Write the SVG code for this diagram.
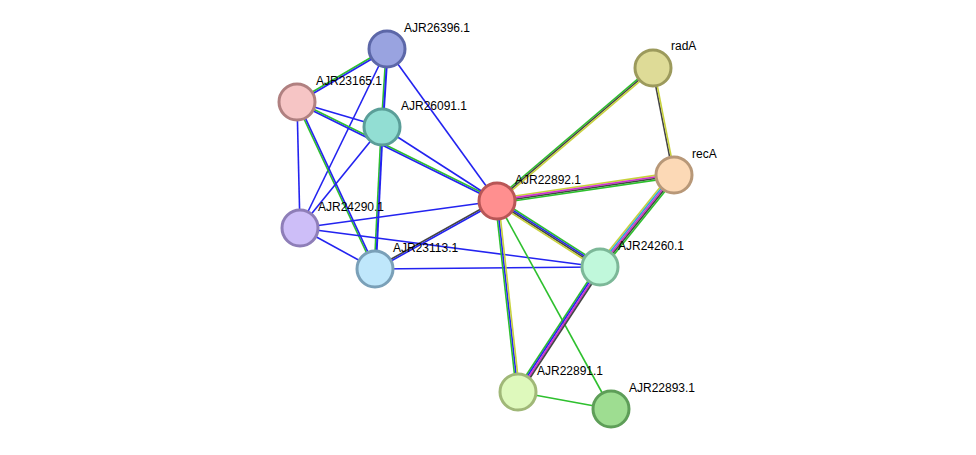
<svg xmlns="http://www.w3.org/2000/svg" width="976" height="455" viewBox="0 0 976 455">
<style>
line{stroke-width:1.6;fill:none}
.b{stroke:#2323f0}.g{stroke:#2ec02e}.k{stroke:#444}.y{stroke:#c8d23c}.m{stroke:#d22cd2}.c{stroke:#2aa8d8}
circle{stroke-width:3}
text{font-family:"Liberation Sans",Arial,sans-serif;font-size:12px;fill:#000}
</style>
<rect width="976" height="455" fill="#fff"/>
<g id="connectors">
<line class="g" x1="386.6" y1="48.3" x2="296.6" y2="101.3"/><line class="b" x1="387.4" y1="49.7" x2="297.4" y2="102.7"/>
<line class="g" x1="386.2" y1="49" x2="381.2" y2="127"/><line class="b" x1="387.8" y1="49" x2="382.8" y2="127" style="stroke-width:2"/>
<line class="b" x1="387" y1="49" x2="300" y2="228"/>
<line class="b" x1="387" y1="49" x2="497" y2="201"/>
<line class="b" x1="297" y1="102" x2="382" y2="127"/>
<line class="g" x1="297.35" y1="101.3" x2="497.35" y2="200.3"/><line class="b" x1="296.65" y1="102.7" x2="496.65" y2="201.7"/>
<line class="b" x1="297" y1="102" x2="300" y2="228"/>
<line class="g" x1="296.3" y1="102.3" x2="374.3" y2="269.3"/><line class="b" x1="297.7" y1="101.7" x2="375.7" y2="268.7"/>
<line class="b" x1="382" y1="127" x2="497" y2="201"/>
<line class="g" x1="381.2" y1="127" x2="374.2" y2="269"/><line class="b" x1="382.8" y1="127" x2="375.8" y2="269" style="stroke-width:2"/>
<line class="b" x1="382" y1="127" x2="300" y2="228"/>
<line class="b" x1="300" y1="228" x2="497" y2="201"/>
<line class="b" x1="300" y1="228" x2="375" y2="269"/>
<line class="b" x1="300" y1="228" x2="600" y2="267"/>
<line class="k" x1="374.6" y1="268.3" x2="496.6" y2="200.3"/><line class="b" x1="375.4" y1="269.7" x2="497.4" y2="201.7"/>
<line class="b" x1="375" y1="269" x2="600" y2="267"/>
<line class="g" x1="495.96" y1="199.78" x2="651.96" y2="66.78"/><line class="k" x1="497" y1="201" x2="653" y2="68"/><line class="y" x1="498.04" y1="202.22" x2="654.04" y2="69.22"/>
<line class="y" x1="496.65" y1="198.62" x2="673.65" y2="172.62"/><line class="m" x1="496.88" y1="200.21" x2="673.88" y2="174.21"/><line class="k" x1="497.12" y1="201.79" x2="674.12" y2="175.79"/><line class="g" x1="497.35" y1="203.38" x2="674.35" y2="177.38"/>
<line class="g" x1="498.3" y1="199" x2="601.3" y2="265"/><line class="b" x1="497.43" y1="200.33" x2="600.43" y2="266.33"/><line class="k" x1="496.57" y1="201.67" x2="599.57" y2="267.67"/><line class="y" x1="495.7" y1="203" x2="598.7" y2="269"/>
<line class="g" x1="495.42" y1="201.18" x2="516.42" y2="392.18"/><line class="b" x1="497" y1="201" x2="518" y2="392"/><line class="y" x1="498.58" y1="200.82" x2="519.58" y2="391.82"/>
<line class="g" x1="497" y1="201" x2="611" y2="409"/>
<line class="k" x1="652.22" y1="68.15" x2="673.22" y2="175.15"/><line class="y" x1="653.78" y1="67.85" x2="674.78" y2="174.85"/>
<line class="y" x1="671.5" y1="173" x2="597.5" y2="265"/><line class="c" x1="672.75" y1="174" x2="598.75" y2="266"/><line class="m" x1="674" y1="175" x2="600" y2="267"/><line class="k" x1="675.25" y1="176" x2="601.25" y2="268"/><line class="g" x1="676.5" y1="177" x2="602.5" y2="269"/>
<line class="g" x1="598" y1="265.7" x2="516" y2="390.7"/><line class="b" x1="599.33" y1="266.56" x2="517.33" y2="391.56"/><line class="m" x1="600.67" y1="267.44" x2="518.67" y2="392.44"/><line class="k" x1="602" y1="268.3" x2="520" y2="393.3"/>
<line class="g" x1="518" y1="392" x2="611" y2="409"/>
</g>
<g id="AJR26396.1"><circle cx="387" cy="49" r="18" fill="#99a3e0" stroke="#5c67a8"/><text x="404" y="32">AJR26396.1</text></g>
<g id="AJR23165.1"><circle cx="297" cy="102" r="18" fill="#f6c5c5" stroke="#b08080"/><text x="316" y="85">AJR23165.1</text></g>
<g id="AJR26091.1"><circle cx="382" cy="127" r="18" fill="#92ded3" stroke="#5a9e98"/><text x="401" y="110">AJR26091.1</text></g>
<g id="AJR22892.1"><circle cx="497" cy="201" r="18" fill="#ff8f8f" stroke="#b85656"/><text x="515" y="184">AJR22892.1</text></g>
<g id="radA"><circle cx="653" cy="68" r="18" fill="#dedb97" stroke="#9c9a5c"/><text x="671" y="50">radA</text></g>
<g id="recA"><circle cx="674" cy="175" r="18" fill="#fcd9b6" stroke="#b89878"/><text x="692" y="158">recA</text></g>
<g id="AJR24290.1"><circle cx="300" cy="228" r="18" fill="#cdbef8" stroke="#8e7eb8"/><text x="318" y="211">AJR24290.1</text></g>
<g id="AJR23113.1"><circle cx="375" cy="269" r="18" fill="#bfe7fb" stroke="#7aa0b8"/><text x="393" y="252">AJR23113.1</text></g>
<g id="AJR24260.1"><circle cx="600" cy="267" r="18" fill="#c0f8db" stroke="#7cb898"/><text x="618" y="250">AJR24260.1</text></g>
<g id="AJR22891.1"><circle cx="518" cy="392" r="18" fill="#def9bc" stroke="#a0b878"/><text x="537" y="375">AJR22891.1</text></g>
<g id="AJR22893.1"><circle cx="611" cy="409" r="18" fill="#9edd91" stroke="#5e9e58"/><text x="629" y="392">AJR22893.1</text></g>
</svg>
